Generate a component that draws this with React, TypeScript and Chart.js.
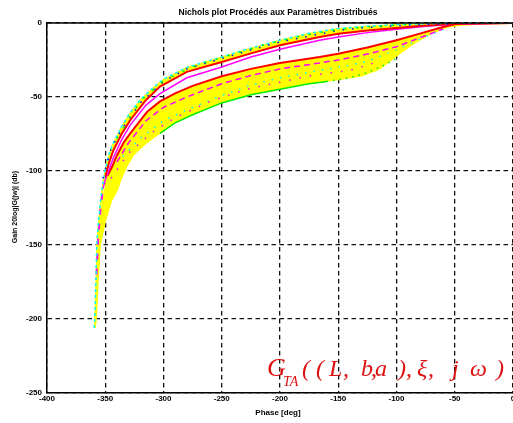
import React, { useEffect, useRef } from "react";
import { Chart, registerables } from "chart.js";

Chart.register(...registerables);

// ---- axis ticks ----
const xTicks = [-400, -350, -300, -250, -200, -150, -100, -50, 0];
const yTicks = [0, -50, -100, -150, -200, -250];

// ---- texts ----
const titleText = "Nichols plot Procédés aux Paramètres Distribués";
const xLabel = "Phase [deg]";
const yLabel = "Gain 20log|G(jw)| (db)";

// ---- curves: [phase (deg), gain (dB)] ----
const upperEdge: number[][] = [
  [-359.5, -206], [-359, -200], [-358, -175], [-357.3, -150], [-355.7, -133], [-353, -113],
  [-351, -103], [-349, -96], [-347, -89], [-343, -81], [-336, -70], [-329, -61], [-320, -52],
  [-310, -44.5], [-300, -38], [-280, -30], [-250, -23], [-225, -17], [-200, -11.7], [-175, -7],
  [-150, -3.8], [-125, -2.2], [-100, -1.1], [-75, -0.5], [-50, -0.2], [0, 0],
];
const upperTail: number[][] = [
  [-359.5, -206], [-358.5, -190], [-357, -165], [-355, -140], [-353, -122],
];
const upperRed: number[][] = [
  [-350, -104], [-347, -95], [-343, -86], [-336, -75], [-328.6, -65.7], [-315, -52], [-303, -43],
  [-280, -33], [-250, -26.4], [-225, -20.5], [-200, -15], [-166, -9.5], [-150, -7.2], [-125, -5],
  [-100, -3.4], [-80, -2], [-60, -1], [-40, -0.4], [0, 0],
];
const upperMagenta: number[][] = [
  [-352, -112], [-350, -106], [-343, -91], [-336, -79], [-328.6, -69], [-315, -55.5], [-303, -47.7],
  [-280, -37], [-250, -29.7], [-225, -23], [-200, -17.8], [-166, -11.7], [-150, -9.5], [-125, -6.5],
  [-100, -4.2], [-75, -2.2], [-50, -0.8], [0, 0],
];
const magentaTail: number[][] = [
  [-357.5, -170], [-356, -145], [-354, -125], [-352, -112],
];
const upperBlue: number[][] = [
  [-352, -105], [-345, -85], [-336, -72], [-320, -54], [-300, -39.5], [-280, -31], [-250, -24],
  [-225, -18.2], [-200, -12.8], [-166, -7.5], [-150, -5], [-125, -3], [-100, -1.8], [-75, -0.9],
  [-50, -0.3],
];
const upperGreen: number[][] = [
  [-340, -78], [-320, -53], [-300, -39], [-270, -28], [-240, -21], [-210, -14], [-180, -8.5],
  [-150, -4.5], [-120, -2.3], [-90, -1],
];
const lowerTail: number[][] = [
  [-359, -206], [-358, -185], [-356.5, -160], [-354.5, -135], [-352, -118],
];
const lowerRed: number[][] = [
  [-348, -103], [-344, -97], [-340, -89.5], [-334, -80.5], [-328, -74], [-320, -66], [-314, -60],
  [-303, -53], [-290, -47.5], [-275, -42.5], [-250, -36], [-225, -31], [-200, -27], [-166, -23],
  [-150, -20.8], [-125, -16.5], [-100, -11.7], [-80, -7.2], [-60, -2.7], [-50, -0.9], [-40, -0.3],
  [0, 0],
];
const lowerMagenta: number[][] = [
  [-340, -94], [-330, -81], [-315, -66], [-300, -57], [-280, -50], [-250, -41], [-225, -35.5],
  [-200, -31], [-166, -27], [-150, -25], [-125, -21], [-100, -16], [-80, -10], [-60, -4],
];
const lowerCyan: number[][] = [
  [-335, -90], [-320, -78], [-300, -66], [-275, -57], [-250, -49], [-225, -42], [-200, -37],
  [-166, -32], [-150, -30], [-125, -26], [-100, -18], [-80, -11], [-60, -4.5],
];
const lowerDots: number[][] = [
  [-345, -105], [-330, -88], [-310, -74], [-290, -64], [-260, -53], [-230, -45], [-200, -40],
  [-170, -35], [-140, -32], [-115, -26],
];
const lowerEdge: number[][] = [
  [-359, -206], [-358, -200], [-356.5, -175], [-354.6, -150], [-350, -133], [-345, -120],
  [-340, -113], [-337, -106], [-332, -97], [-326, -89], [-315, -81], [-303, -74], [-290, -67],
  [-275, -61.5], [-250, -53.5], [-225, -48], [-200, -44], [-175, -40.5], [-150, -38], [-130, -35.5],
  [-115, -31], [-100, -22], [-86, -14], [-71, -7.2], [-57, -2.7], [-43, -1.1], [-25, -0.4], [0, 0],
];
const greenLine: number[][] = [
  [-303, -74.5], [-290, -67.5], [-275, -62], [-250, -54], [-225, -48.5], [-200, -44.8],
  [-175, -41], [-160, -39.5],
];
const greenDots: number[][] = [
  [-160, -39.5], [-140, -37], [-125, -33.5], [-112, -29], [-100, -24],
];

const YELLOW = "#ffff00";
const RED = "#ff0000";
const MAGENTA = "#ff00ff";
const CYAN = "#00ffff";
const GREEN = "#00ee00";
const BLUE = "#0000ff";

const pts = (arr: number[][]) => arr.map(([x, y]) => ({ x, y }));

const textPlugin = {
  id: "texts",
  afterDraw(chart: any) {
    const { ctx, chartArea, scales } = chart;
    const xs = scales.x;
    const ys = scales.y;
    ctx.save();
    // top frame line
    ctx.strokeStyle = "#000";
    ctx.lineWidth = 1.5;
    ctx.beginPath();
    ctx.moveTo(chartArea.left, chartArea.top);
    ctx.lineTo(chartArea.right, chartArea.top);
    ctx.stroke();

    ctx.fillStyle = "#000";
    ctx.font = "bold 8px 'Liberation Sans', Arial, sans-serif";
    ctx.textAlign = "center";
    ctx.textBaseline = "middle";
    xTicks.forEach((v) => ctx.fillText(String(v), xs.getPixelForValue(v), chartArea.bottom + 6));
    ctx.textAlign = "right";
    yTicks.forEach((v) => ctx.fillText(String(v), chartArea.left - 5, ys.getPixelForValue(v)));

    // title
    ctx.textAlign = "center";
    ctx.font = "bold 8.5px 'Liberation Sans', Arial, sans-serif";
    ctx.fillText(titleText, 278, 12.5);
    // x label
    ctx.font = "bold 8px 'Liberation Sans', Arial, sans-serif";
    ctx.fillText(xLabel, 278, 413);
    // y label
    ctx.save();
    ctx.translate(15, 207);
    ctx.rotate(-Math.PI / 2);
    ctx.font = "bold 7px 'Liberation Sans', Arial, sans-serif";
    ctx.fillText(yLabel, 0, 0);
    ctx.restore();

    // math annotation
    ctx.fillStyle = "#dd1111";
    ctx.textAlign = "left";
    ctx.textBaseline = "alphabetic";
    ctx.font = "italic 26px 'Liberation Serif', 'DejaVu Serif', serif";
    ctx.fillText("G", 267, 376);
    ctx.font = "italic 14px 'Liberation Serif', 'DejaVu Serif', serif";
    ctx.fillText("TA", 283, 386);
    ctx.font = "italic 24px 'Liberation Serif', 'DejaVu Serif', serif";
    const pieces: [string, number][] = [
      ["(", 302], ["(", 316], ["L", 329], [",", 343], ["b", 361], [",", 371], ["a", 375],
      [")", 398], [",", 406], ["ξ", 417], [",", 428], ["j", 452], ["ω", 470], [")", 496],
    ];
    pieces.forEach(([t, x]) => ctx.fillText(t, x, 376));
    ctx.restore();
  },
};

export default function App() {
  const ref = useRef<HTMLCanvasElement | null>(null);
  useEffect(() => {
    document.body.style.margin = "0";
    const canvas = ref.current;
    if (!canvas) return;
    const base = { showLine: true, pointRadius: 0, tension: 0, fill: false };
    const sets: any[] = [
      { ...base, data: pts(upperEdge), borderColor: YELLOW, borderWidth: 1 },
      { ...base, data: pts([...upperTail, ...upperRed]), borderWidth: 0, backgroundColor: YELLOW, fill: "-1" },
      { ...base, data: pts([...lowerTail, ...lowerRed]), borderColor: YELLOW, borderWidth: 1 },
      { ...base, data: pts(lowerEdge), borderColor: YELLOW, borderWidth: 2, backgroundColor: YELLOW, fill: "-1" },
      { ...base, data: pts(greenLine), borderColor: GREEN, borderWidth: 1.5 },
      { ...base, data: pts(greenDots), borderColor: GREEN, borderWidth: 1.5, borderDash: [1.5, 5] },
      { ...base, data: pts(lowerCyan), borderColor: CYAN, borderWidth: 1.5, borderDash: [1.5, 7] },
      { ...base, data: pts(lowerDots), borderColor: MAGENTA, borderWidth: 1.5, borderDash: [1.5, 9] },
      { ...base, data: pts(lowerMagenta), borderColor: MAGENTA, borderWidth: 1.5, borderDash: [6, 4] },
      { ...base, data: pts(lowerRed), borderColor: RED, borderWidth: 2 },
      { ...base, data: pts(upperMagenta), borderColor: MAGENTA, borderWidth: 1.5 },
      { ...base, data: pts(magentaTail), borderColor: MAGENTA, borderWidth: 2, borderDash: [6, 9] },
      { ...base, data: pts(upperRed), borderColor: RED, borderWidth: 2 },
      { ...base, data: pts(upperEdge), borderColor: CYAN, borderWidth: 1.5, borderDash: [3, 3] },
      { ...base, data: pts(upperBlue), borderColor: BLUE, borderWidth: 1.5, borderDash: [1.5, 8] },
      { ...base, data: pts(upperGreen), borderColor: GREEN, borderWidth: 1.5, borderDash: [2, 10] },
    ];
    sets.forEach((s, i) => (s.order = sets.length - i));

    const chart = new Chart(canvas, {
      type: "scatter",
      data: { datasets: sets },
      plugins: [textPlugin],
      options: {
        animation: false,
        responsive: false,
        layout: { padding: { top: 23, left: 0, right: 0, bottom: 0 } },
        plugins: {
          legend: { display: false },
          tooltip: { enabled: false },
          title: { display: false },
          filler: { propagate: false },
        },
        scales: {
          x: {
            type: "linear",
            min: -400,
            max: 0,
            afterBuildTicks: (s: any) => { s.ticks = xTicks.map((v) => ({ value: v })); },
            afterFit: (s: any) => { s.height = 30; },
            ticks: { display: false },
            grid: { color: "#111", lineWidth: 1.3, drawTicks: false },
            border: { display: true, color: "#000", width: 1.5, dash: [4.5, 3.5] },
          },
          y: {
            type: "linear",
            min: -250,
            max: 0,
            afterBuildTicks: (s: any) => { s.ticks = yTicks.map((v) => ({ value: v })); },
            afterFit: (s: any) => { s.width = 47; },
            ticks: { display: false },
            grid: { color: "#111", lineWidth: 1.3, drawTicks: false },
            border: { display: true, color: "#000", width: 1.5, dash: [4.5, 3.5] },
          },
        },
      },
    });
    return () => chart.destroy();
  }, []);
  return <canvas ref={ref} width={513} height={423} style={{ display: "block" }} />;
}
